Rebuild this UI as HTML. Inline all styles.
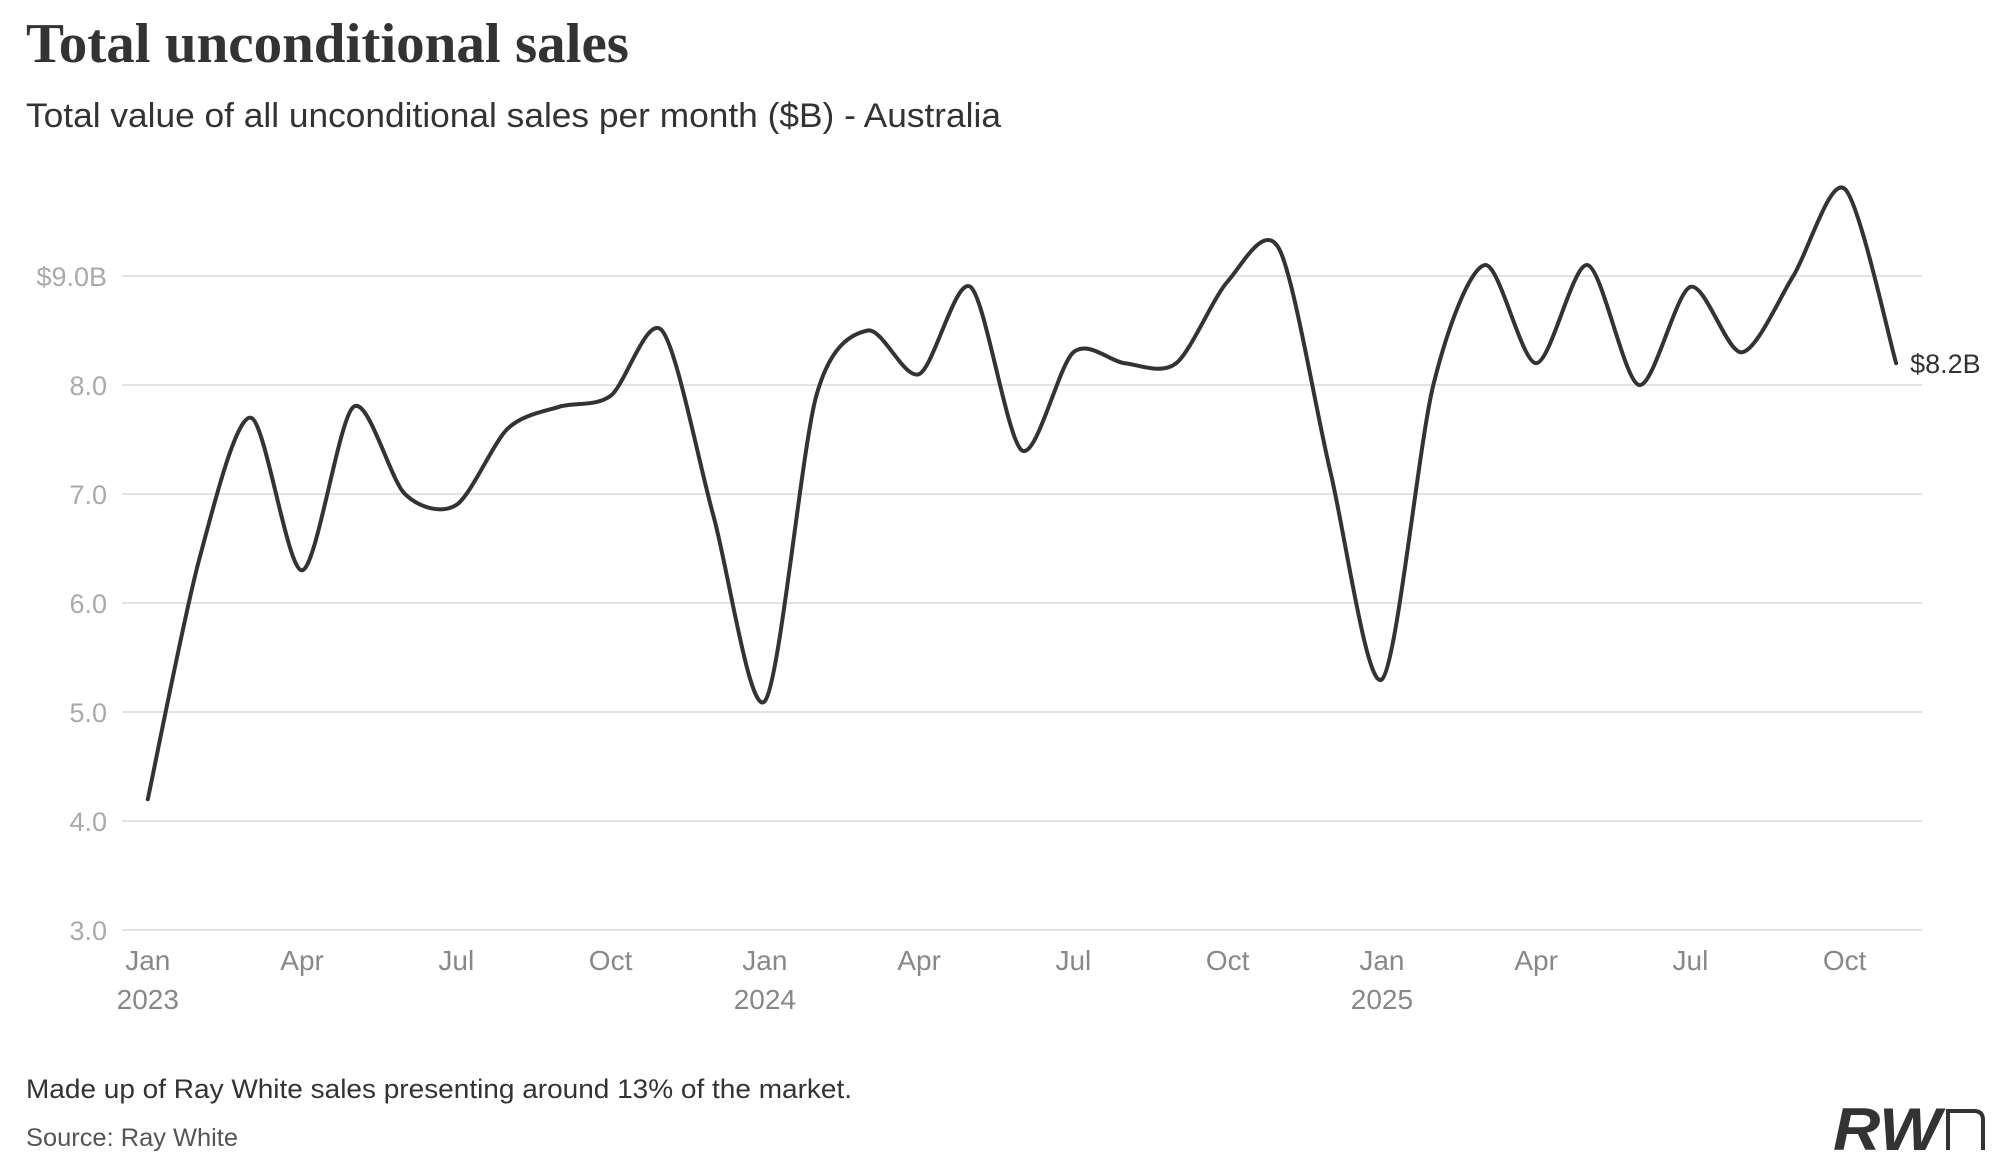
<!DOCTYPE html>
<html><head><meta charset="utf-8"><style>
html,body{margin:0;padding:0;background:#fff;}
svg{display:block;}
</style></head><body>
<svg id="chart" width="2015" height="1175" viewBox="0 0 2015 1175" xmlns="http://www.w3.org/2000/svg">
<text x="26" y="62" font-family="Liberation Serif, serif" font-weight="bold" font-size="56" fill="#333" textLength="603" lengthAdjust="spacingAndGlyphs">Total unconditional sales</text>
<text x="26" y="127" font-family="Liberation Sans, sans-serif" font-size="34" fill="#333" textLength="975" lengthAdjust="spacingAndGlyphs">Total value of all unconditional sales per month ($B) - Australia</text>
<g id="grid"></g>
<g id="xaxis"></g>
<path id="line" fill="none" stroke="#333" stroke-width="4" stroke-linejoin="round" stroke-linecap="round"/>
<text id="endlabel" font-family="Liberation Sans, sans-serif" font-size="27" fill="#333"></text>
<text x="26" y="1098" font-family="Liberation Sans, sans-serif" font-size="27" fill="#333" textLength="826" lengthAdjust="spacingAndGlyphs">Made up of Ray White sales presenting around 13% of the market.</text>
<text x="26" y="1146" font-family="Liberation Sans, sans-serif" font-size="25" fill="#555" textLength="212" lengthAdjust="spacingAndGlyphs">Source: Ray White</text>
<g>
<text x="1833" y="1150" font-family="Liberation Sans, sans-serif" font-weight="bold" font-style="italic" font-size="60" fill="#333" textLength="108" lengthAdjust="spacingAndGlyphs">RW</text>
<path d="M1948 1150 V1111 H1974 Q1983 1111 1983 1120 V1150" fill="none" stroke="#333" stroke-width="4"/>
</g>
</svg>
<script>
const months = ["Jan 2023","Feb 2023","Mar 2023","Apr 2023","May 2023","Jun 2023","Jul 2023","Aug 2023","Sep 2023","Oct 2023","Nov 2023","Dec 2023","Jan 2024","Feb 2024","Mar 2024","Apr 2024","May 2024","Jun 2024","Jul 2024","Aug 2024","Sep 2024","Oct 2024","Nov 2024","Dec 2024","Jan 2025","Feb 2025","Mar 2025","Apr 2025","May 2025","Jun 2025","Jul 2025","Aug 2025","Sep 2025","Oct 2025","Nov 2025"];
const values = [4.2,6.4,7.7,6.3,7.8,7.0,6.9,7.6,7.8,7.9,8.5,6.8,5.1,7.9,8.5,8.1,8.9,7.4,8.3,8.2,8.2,8.95,9.25,7.2,5.3,8.0,9.1,8.2,9.1,8.0,8.9,8.3,9.0,9.8,8.2];
const yTicks = [3,4,5,6,7,8,9];
const yTickLabels = ["3.0","4.0","5.0","6.0","7.0","8.0","$9.0B"];
const xTickIdx = [0,3,6,9,12,15,18,21,24,27,30,33];
const xTickLabels = ["Jan","Apr","Jul","Oct","Jan","Apr","Jul","Oct","Jan","Apr","Jul","Oct"];
const xYearLabels = ["2023","","","","2024","","","","2025","","",""];
const endLabel = "$8.2B";

const NS="http://www.w3.org/2000/svg";
const x0=147.8, dx=(1844.7-147.8)/33;
const X=i=>x0+i*dx;
const Y=v=>930-(v-3)*(930-276)/6;
const grid=document.getElementById('grid');
yTicks.forEach((t,k)=>{
  const l=document.createElementNS(NS,'line');
  l.setAttribute('x1',122);l.setAttribute('x2',1922);
  l.setAttribute('y1',Y(t));l.setAttribute('y2',Y(t));
  l.setAttribute('stroke','#e3e3e3');l.setAttribute('stroke-width','2');
  
  
  grid.appendChild(l);
  const tx=document.createElementNS(NS,'text');
  tx.setAttribute('x',107);tx.setAttribute('y',Y(t)+10);
  tx.setAttribute('text-anchor','end');
  tx.setAttribute('font-family','Liberation Sans, sans-serif');
  tx.setAttribute('font-size','27');tx.setAttribute('fill','#aaa');
  tx.textContent=yTickLabels[k];
  
  
  grid.appendChild(tx);
});
const xa=document.getElementById('xaxis');
xTickIdx.forEach((i,k)=>{
  const tx=document.createElementNS(NS,'text');
  tx.setAttribute('x',X(i));tx.setAttribute('y',970);
  tx.setAttribute('text-anchor','middle');
  tx.setAttribute('font-family','Liberation Sans, sans-serif');
  tx.setAttribute('font-size','28');tx.setAttribute('fill','#888');
  tx.textContent=xTickLabels[k];
  
  
  xa.appendChild(tx);
  if(xYearLabels[k]){
    const ty=document.createElementNS(NS,'text');
    ty.setAttribute('x',X(i));ty.setAttribute('y',1009);
    ty.setAttribute('text-anchor','middle');
    ty.setAttribute('font-family','Liberation Sans, sans-serif');
    ty.setAttribute('font-size','28');ty.setAttribute('fill','#888');
    ty.textContent=xYearLabels[k];
    
    
    xa.appendChild(ty);
  }
});
const pts=values.map((v,i)=>[X(i),Y(v)]);
let d=`M${pts[0][0]},${pts[0][1]}`;
const k=1/7;
for(let i=0;i<pts.length-1;i++){
  const p0=pts[Math.max(0,i-1)],p1=pts[i],p2=pts[i+1],p3=pts[Math.min(pts.length-1,i+2)];
  const c1=[p1[0]+(p2[0]-p0[0])*k,p1[1]+(p2[1]-p0[1])*k];
  const c2=[p2[0]-(p3[0]-p1[0])*k,p2[1]-(p3[1]-p1[1])*k];
  d+=` C${c1[0]},${c1[1]} ${c2[0]},${c2[1]} ${p2[0]},${p2[1]}`;
}
document.getElementById('line').setAttribute('d',d);
const el=document.getElementById('endlabel');
const last=pts[pts.length-1];
el.setAttribute('x',last[0]+14);el.setAttribute('y',last[1]+10);
el.textContent=endLabel;
</script>
</body></html>
